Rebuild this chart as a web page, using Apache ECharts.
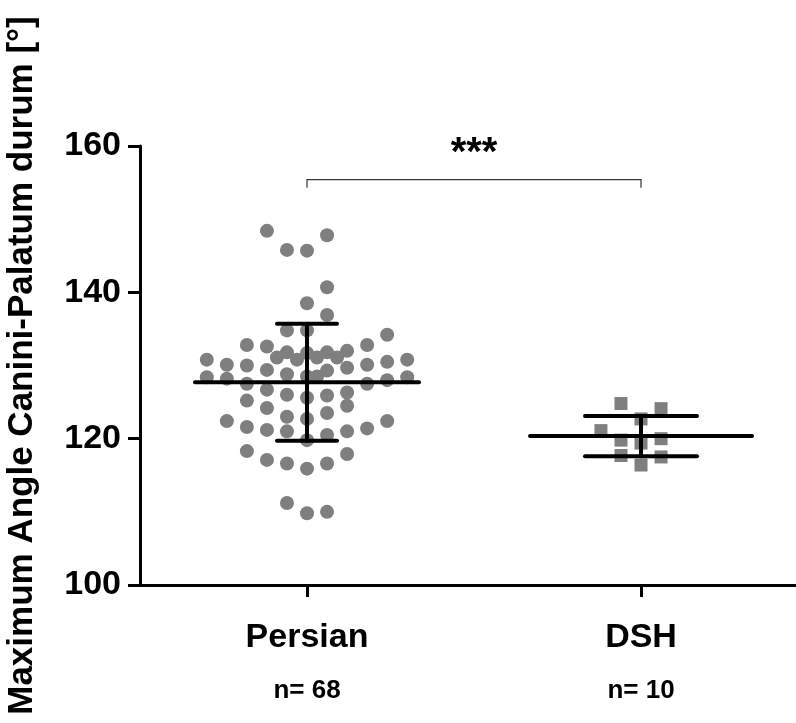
<!DOCTYPE html>
<html>
<head>
<meta charset="utf-8">
<script src="https://cdn.jsdelivr.net/npm/echarts@6/dist/echarts.min.js"></script>
<style>
  html, body { margin: 0; padding: 0; background: #fff; }
  #chart { width: 796px; height: 723px; }
</style>
</head>
<body>
<div id="chart"></div>
<script>
    var groups = ['Persian', 'DSH'];
    var groupN = ['n= 68', 'n= 10'];
    var groupPos = [1, 3];
    var yTicks = [100, 120, 140, 160];
    var yTitle = 'Maximum Angle Canini-Palatum durum [°]';

    // Persian: beeswarm column (slot) and value of every cat
    var persianSlot = [-2, -1, 0, 1, 1, 0, 1,
        -1, 0, 4, -3, -2, 3, -1, 0, 1, 2, -1.5, -0.5, 0.5, 1.5,
        -5, -4, -3, 3, 4, 5, -2, 1, 2, -1, 0, 0.5, -5, -4, -3, 3, 4, 5,
        -2, -1, 1, 2, 0, -3, -2, 1, 2, -1, 0, -4, -3, 4, 3, -2, -1, 2, 1, 0,
        -3, -2, -1, 0, 1, 2, -1, 0, 1];
    var persianValue = [148.4, 145.8, 145.7, 147.8, 140.7, 138.5, 136.9,
        134.8, 134.8, 134.2, 132.8, 132.6, 132.8, 131.8, 131.7, 131.8, 132.0, 131.1, 130.8, 131.1, 131.1,
        130.8, 130.1, 130.0, 130.1, 130.5, 130.8, 129.4, 129.3, 129.7, 128.8, 128.5, 128.5, 128.4, 128.2, 127.5, 127.5, 128.0, 128.4,
        126.7, 126.0, 125.9, 126.3, 125.6, 125.2, 124.2, 123.5, 124.5, 123.0, 122.7, 122.4, 121.6, 122.4, 121.4, 121.2, 121.0, 121.0, 120.5, 119.8,
        118.3, 117.1, 116.6, 115.9, 116.6, 117.9, 111.2, 109.8, 110.0];

    // DSH
    var dshSlot = [-1, 1, 0, -2, -1, 0, 1, -1, 1, 0];
    var dshValue = [124.8, 124.1, 122.7, 121.1, 119.8, 119.4, 120.0, 117.7, 117.5, 116.4];

    var groupMean = [127.7, 120.35];
    var groupSd = [8.0, 2.75];
    var sigText = '***';
    var sigLevel = 155.4;

    // look
    var slotWidth = 0.12;
    var meanHalf = [112, 111];
    var capHalf = [30, 56];
    var font = "'Liberation Sans', Arial, sans-serif";

    function swarm(pos, slots, values) {
        var out = [];
        for (var i = 0; i < values.length; i++) {
            out.push([pos + slots[i] * slotWidth, values[i]]);
        }
        return out;
    }

    var bars = [];
    for (var g = 0; g < groups.length; g++) {
        bars.push([groupPos[g], groupMean[g], groupSd[g]]);
    }

    var chart = echarts.init(document.getElementById('chart'));
    chart.setOption({
        animation: false,
        backgroundColor: '#fff',
        grid: { left: 140, right: 0, top: 146, bottom: 138, containLabel: false, outerBoundsMode: 'none' },
        xAxis: {
            type: 'value',
            min: 0,
            max: 3.928,
            splitLine: { show: false },
            axisLine: { lineStyle: { color: '#000', width: 3 } },
            axisTick: { customValues: groupPos, length: 12, lineStyle: { color: '#000', width: 3 } },
            axisLabel: {
                customValues: groupPos,
                margin: 28,
                formatter: function (v) {
                    var i = groupPos.indexOf(v);
                    return '{a|' + groups[i] + '}\n{b|' + groupN[i] + '}';
                },
                rich: {
                    a: { fontFamily: font, fontWeight: 'bold', fontSize: 34, color: '#000', lineHeight: 50 },
                    b: { fontFamily: font, fontWeight: 'bold', fontSize: 26, color: '#000', lineHeight: 56 }
                }
            }
        },
        yAxis: {
            type: 'value',
            min: 100,
            max: 160,
            interval: 20,
            name: yTitle,
            nameLocation: 'middle',
            nameRotate: 90,
            nameGap: 100,
            nameTextStyle: { fontFamily: font, fontWeight: 'bold', fontSize: 35, color: '#000' },
            splitLine: { show: false },
            axisLine: { show: true, lineStyle: { color: '#000', width: 3 } },
            axisTick: { show: true, length: 12, lineStyle: { color: '#000', width: 3 } },
            axisLabel: { fontFamily: font, fontWeight: 'bold', fontSize: 34, color: '#000', margin: 19 }
        },
        series: [
            {
                type: 'scatter',
                symbol: 'circle',
                symbolSize: 14,
                itemStyle: { color: '#7f7f7f', opacity: 1 },
                data: swarm(groupPos[0], persianSlot, persianValue),
                z: 2
            },
            {
                type: 'scatter',
                symbol: 'rect',
                symbolSize: 13,
                itemStyle: { color: '#7f7f7f', opacity: 1 },
                data: swarm(groupPos[1], dshSlot, dshValue),
                z: 2
            },
            {
                type: 'custom',
                z: 5,
                data: bars,
                renderItem: function (params, api) {
                    var i = params.dataIndex;
                    var x = api.value(0), m = api.value(1), s = api.value(2);
                    var c = api.coord([x, m]);
                    var hi = api.coord([x, m + s]);
                    var lo = api.coord([x, m - s]);
                    var st = { stroke: '#000', lineWidth: 4, lineCap: 'round' };
                    return {
                        type: 'group',
                        children: [
                            { type: 'line', shape: { x1: c[0] - meanHalf[i], y1: c[1], x2: c[0] + meanHalf[i], y2: c[1] }, style: st },
                            { type: 'line', shape: { x1: c[0], y1: hi[1], x2: c[0], y2: lo[1] }, style: st },
                            { type: 'line', shape: { x1: c[0] - capHalf[i], y1: hi[1], x2: c[0] + capHalf[i], y2: hi[1] }, style: st },
                            { type: 'line', shape: { x1: c[0] - capHalf[i], y1: lo[1], x2: c[0] + capHalf[i], y2: lo[1] }, style: st }
                        ]
                    };
                }
            },
            {
                type: 'custom',
                z: 5,
                data: [[groupPos[0], groupPos[1], sigLevel]],
                renderItem: function (params, api) {
                    var a = api.coord([api.value(0), api.value(2)]);
                    var b = api.coord([api.value(1), api.value(2)]);
                    return {
                        type: 'group',
                        children: [
                            {
                                type: 'polyline',
                                shape: { points: [[a[0], a[1] + 8], [a[0], a[1]], [b[0], b[1]], [b[0], b[1] + 8]] },
                                style: { stroke: '#333', lineWidth: 1.2, fill: null }
                            },
                            {
                                type: 'text',
                                style: {
                                    text: sigText, x: (a[0] + b[0]) / 2, y: a[1] - 26,
                                    align: 'center', verticalAlign: 'middle',
                                    font: 'bold 40px ' + font, fill: '#000'
                                }
                            }
                        ]
                    };
                }
            }
        ]
    });
</script>
</body>
</html>
